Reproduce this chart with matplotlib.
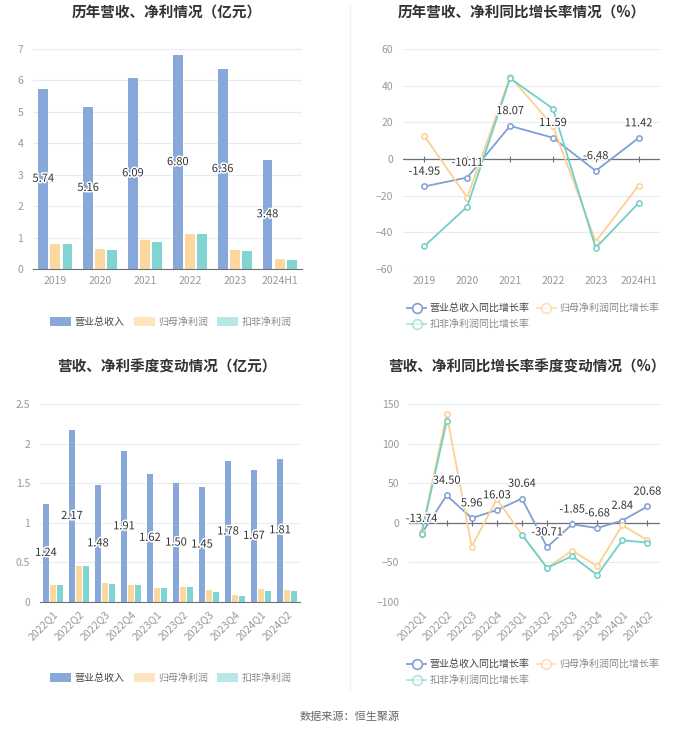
import numpy as np
import matplotlib
matplotlib.use('Agg')
import matplotlib.pyplot as plt
import matplotlib.patheffects as pe
from matplotlib.lines import Line2D
from matplotlib.patches import Patch

plt.rcParams['font.family'] = ['Noto Sans CJK SC', 'DejaVu Sans']

# ---- data ----
years = ['2019', '2020', '2021', '2022', '2023', '2024H1']
rev_year = [5.74, 5.16, 6.09, 6.80, 6.36, 3.48]
net_year = [0.80, 0.63, 0.92, 1.12, 0.62, 0.31]
ded_year = [0.80, 0.59, 0.86, 1.10, 0.57, 0.28]

rev_year_g = [-14.95, -10.11, 18.07, 11.59, -6.48, 11.42]
net_year_g = [12.5, -21.0, 45.0, 18.0, -45.0, -14.5]
ded_year_g = [-47.5, -26.0, 44.0, 27.5, -48.5, -24.0]

quarters = ['2022Q1', '2022Q2', '2022Q3', '2022Q4', '2023Q1',
            '2023Q2', '2023Q3', '2023Q4', '2024Q1', '2024Q2']
rev_q = [1.24, 2.17, 1.48, 1.91, 1.62, 1.50, 1.45, 1.78, 1.67, 1.81]
net_q = [0.21, 0.46, 0.24, 0.21, 0.18, 0.19, 0.15, 0.09, 0.17, 0.15]
ded_q = [0.21, 0.46, 0.23, 0.21, 0.18, 0.19, 0.13, 0.07, 0.14, 0.14]

rev_q_g = [-13.74, 34.50, 5.96, 16.03, 30.64, -30.71, -1.85, -6.68, 2.84, 20.68]
net_q_g = [-12.0, 137.0, -30.0, 30.0, -15.0, -57.0, -35.0, -55.0, -3.0, -22.0]
ded_q_g = [-14.0, 128.0, np.nan, np.nan, -15.0, -57.0, -42.0, -66.0, -22.0, -25.0]

bar_names = ['营业总收入', '归母净利润', '扣非净利润']
line_names = ['营业总收入同比增长率', '归母净利润同比增长率', '扣非净利润同比增长率']

# ---- styles ----
C_BAR = ['#88a8da', '#fdd89e', '#80d5d2']
C_LINE = ['#7f9fd5', '#fdd091', '#6fd0c8']
LEG_ALPHA = [1.0, 0.65, 0.55]
GRID = '#e8ecf2'
AXIS = '#6e7079'
TICK = '#999999'
TXT = '#333333'
W, H = 700, 734

fig = plt.figure(figsize=(W / 100, H / 100), dpi=100)
stroke = [pe.withStroke(linewidth=2.2, foreground='white')]


def ax_px(l, t, r, b):
    return fig.add_axes([l / W, 1 - b / H, (r - l) / W, (b - t) / H])


def base_style(ax):
    for s in ['left', 'right', 'top']:
        ax.spines[s].set_visible(False)
    ax.grid(axis='y', color=GRID, lw=0.8)
    ax.set_axisbelow(True)
    ax.tick_params(axis='y', length=0, colors=TICK, labelsize=7.5, pad=7)
    ax.tick_params(axis='x', length=0, colors=TICK, labelsize=7.5, pad=5)


def bar_chart(ax, cats, vals, ylim, yticks, ylabels, rotate=False):
    x = np.arange(len(cats))
    w = 0.22
    for i, v in enumerate(vals):
        ax.bar(x + (i - 1) * 0.27, v, width=w, color=C_BAR[i], zorder=2)
    for xi, v in zip(x - 0.27, vals[0]):
        ax.text(xi, v / 2, f'{v:.2f}', ha='center', va='center', fontsize=8,
                color=TXT, path_effects=stroke, zorder=5)
    base_style(ax)
    ax.spines['bottom'].set_color(AXIS)
    ax.set_xlim(-0.5, len(cats) - 0.5)
    ax.set_ylim(*ylim)
    ax.set_yticks(yticks)
    ax.set_yticklabels(ylabels)
    ax.set_xticks(x)
    if rotate:
        ax.set_xticklabels(cats, rotation=45, ha='right', rotation_mode='anchor')
    else:
        ax.set_xticklabels(cats)


def line_chart(ax, cats, vals, ylim, yticks, rotate=False):
    x = np.arange(len(cats))
    for i, v in enumerate(vals):
        ax.plot(x, v, color=C_LINE[i], lw=1.3, marker='o', ms=3.8,
                mfc='white', mec=C_LINE[i], mew=1.1, zorder=3 + i)
    for xi, v in zip(x, vals[0]):
        ax.annotate(f'{v:.2f}', (xi, v), xytext=(0, 7), textcoords='offset points',
                    ha='center', va='bottom', fontsize=8, color=TXT,
                    path_effects=stroke, zorder=10)
    base_style(ax)
    ax.spines['bottom'].set_visible(False)
    ax.axhline(0, color=AXIS, lw=0.9, zorder=2)
    ax.plot(x, np.zeros(len(x)), ls='none', marker='|', ms=4, color=AXIS,
            zorder=2, markeredgewidth=0.8)
    ax.set_xlim(-0.5, len(cats) - 0.5)
    ax.set_ylim(*ylim)
    ax.set_yticks(yticks)
    ax.set_xticks(x)
    if rotate:
        ax.set_xticklabels(cats, rotation=45, ha='right', rotation_mode='anchor')
    else:
        ax.set_xticklabels(cats)


def bar_legend(y):
    hs = [Patch(facecolor=c, edgecolor='none', alpha=a)
          for c, a in zip(C_BAR, LEG_ALPHA)]
    leg = fig.legend(hs, bar_names, loc='center', bbox_to_anchor=(171 / W, 1 - y / H),
                     ncol=3, frameon=False, fontsize=7.2, handlelength=2.1,
                     handleheight=1.0, columnspacing=0.9, handletextpad=0.35)
    for t, c in zip(leg.get_texts(), ['#444444', '#888888', '#888888']):
        t.set_color(c)


def line_legend(y):
    hs = [Line2D([0], [0], color=c, lw=1.3, marker='o', ms=7, mfc='white',
                 mec=c, mew=1.2, alpha=a) for c, a in zip(C_LINE, LEG_ALPHA)]
    order = [0, 2, 1]
    leg = fig.legend([hs[i] for i in order], [line_names[i] for i in order],
                     loc='upper left', bbox_to_anchor=(398 / W, 1 - y / H),
                     ncol=2, frameon=False, fontsize=7.2, handlelength=1.9,
                     columnspacing=0.7, handletextpad=0.35, labelspacing=0.6)
    for t, i in zip(leg.get_texts(), order):
        t.set_color('#444444' if i == 0 else '#888888')


# chart 1
ax1 = ax_px(33, 49, 302, 269)
bar_chart(ax1, years, [rev_year, net_year, ded_year], (0, 7), range(0, 8),
          [str(i) for i in range(8)])
fig.text(167 / W, 1 - 13 / H, '历年营收、净利情况（亿元）', ha='center', va='center',
         fontsize=10.5, fontweight='bold', color=TXT)
bar_legend(322)

# chart 2
ax2 = ax_px(403, 49, 660, 269)
line_chart(ax2, years, [rev_year_g, net_year_g, ded_year_g], (-60, 60),
           range(-60, 61, 20))
fig.text(522 / W, 1 - 13 / H, '历年营收、净利同比增长率情况（%）', ha='center',
         va='center', fontsize=10.5, fontweight='bold', color=TXT)
line_legend(294)

# chart 3
ax3 = ax_px(40, 404, 300, 602)
bar_chart(ax3, quarters, [rev_q, net_q, ded_q], (0, 2.5),
          [0, 0.5, 1, 1.5, 2, 2.5], ['0', '0.5', '1', '1.5', '2', '2.5'],
          rotate=True)
fig.text(167 / W, 1 - 367 / H, '营收、净利季度变动情况（亿元）', ha='center',
         va='center', fontsize=10.5, fontweight='bold', color=TXT)
bar_legend(678)

# chart 4
ax4 = ax_px(409, 404, 660, 602)
line_chart(ax4, quarters, [rev_q_g, net_q_g, ded_q_g], (-100, 150),
           range(-100, 151, 50), rotate=True)
fig.text(527 / W, 1 - 367 / H, '营收、净利同比增长率季度变动情况（%）', ha='center',
         va='center', fontsize=10.5, fontweight='bold', color=TXT)
line_legend(650)

# separator and source
fig.add_artist(Line2D([350 / W, 350 / W], [1 - 5 / H, 1 - 690 / H],
                      color='#f0f0f0', lw=1))
fig.text(350 / W, 1 - 717 / H, '数据来源：恒生聚源', ha='center', va='center',
         fontsize=8, color='#666666')

fig.savefig('out.png', dpi=100, facecolor='white')
